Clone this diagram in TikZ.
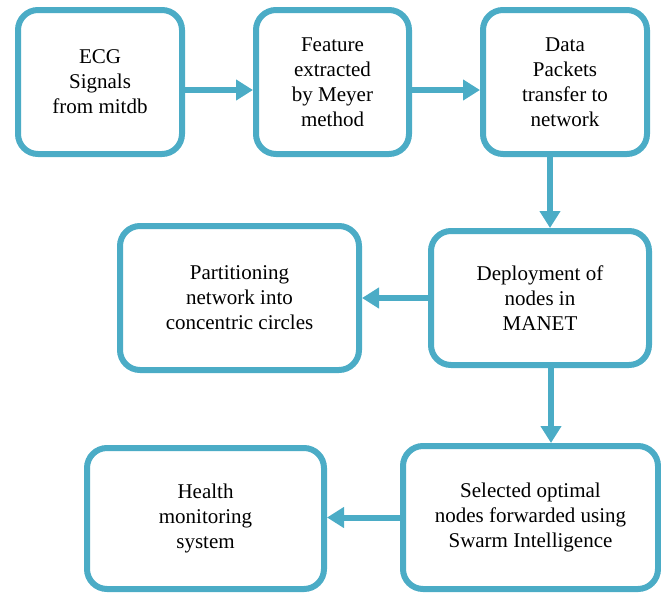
\documentclass[tikz,border=0pt]{standalone}
\usepackage{fontspec}
\setmainfont{Liberation Serif}
\usepackage{xcolor}
\usetikzlibrary{arrows.meta}
\definecolor{boxblue}{HTML}{4BACC6}

\begin{document}
\begin{tikzpicture}[x=1pt,y=-1pt,
        stepbox/.style={draw=boxblue,line width=6pt,rounded corners=20pt,
            align=center,font=\fontsize{21}{25}\selectfont,fill=white},
        flowarrow/.style={draw=boxblue,line width=6pt,
            -{Triangle[length=17pt,width=20pt]}}]
        \useasboundingbox (0,0) rectangle (661,592);

        \node[stepbox,minimum width=164pt,minimum height=144pt] (ecg) at (100,82) {ECG\\Signals\\from mitdb};
        \node[stepbox,minimum width=153pt,minimum height=144pt] (feat) at (332.5,82) {Feature\\extracted\\by Meyer\\method};
        \node[stepbox,minimum width=164pt,minimum height=144pt] (data) at (565,82) {Data\\Packets\\transfer to\\network};
        \node[stepbox,minimum width=239pt,minimum height=144pt] (part) at (239.5,298) {Partitioning\\network into\\concentric circles};
        \node[stepbox,minimum width=218pt,minimum height=134pt] (deploy) at (540,298) {Deployment of\\nodes in\\MANET};
        \node[stepbox,minimum width=237pt,minimum height=141pt] (health) at (205.5,518.5) {Health\\monitoring\\system};
        \node[stepbox,minimum width=255pt,minimum height=143pt] (swarm) at (530.5,517.5) {Selected optimal\\nodes forwarded using\\Swarm Intelligence};

        \draw[flowarrow] ([yshift=-8pt]ecg.east) -- ([yshift=-8pt]feat.west);
        \draw[flowarrow] ([yshift=-8pt]feat.east) -- ([yshift=-8pt]data.west);
        \draw[flowarrow] ([xshift=-15pt]data.south) -- ([xshift=-15pt]data.south |- deploy.north);
        \draw[flowarrow] (deploy.west) -- (deploy.west -| part.east);
        \draw[flowarrow] ([xshift=11pt]deploy.south) -- ([xshift=11pt]deploy.south |- swarm.north);
        \draw[flowarrow] (swarm.west) -- (swarm.west -| health.east);
    \end{tikzpicture}
\end{document}
